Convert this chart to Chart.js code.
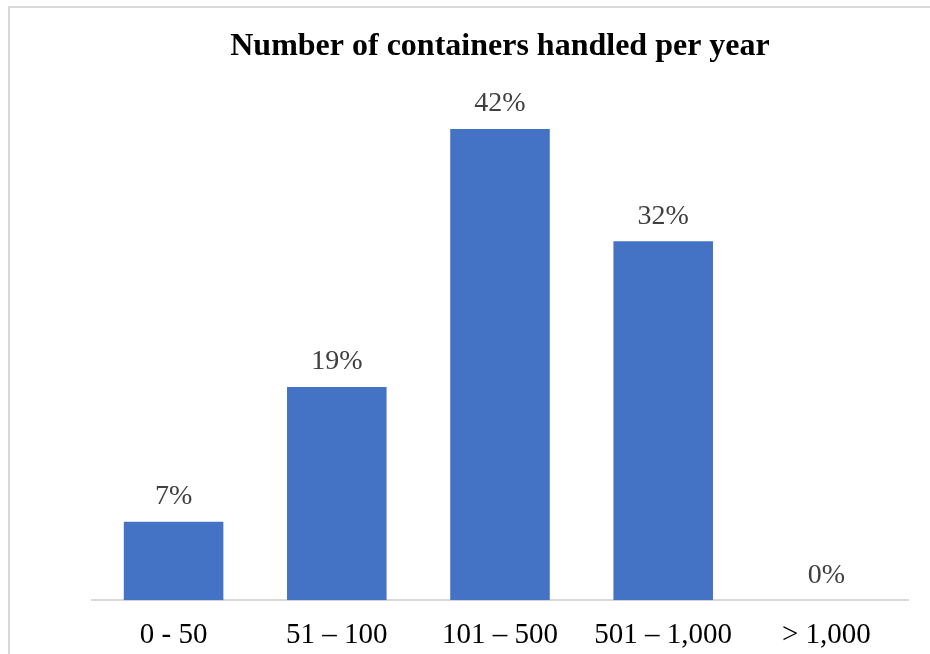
<!DOCTYPE html>
<html>
<head>
<meta charset="utf-8">
<script src="https://cdn.jsdelivr.net/npm/chart.js@4/dist/chart.umd.min.js"></script>
<style>
  html, body { margin: 0; padding: 0; background: #fff; }
  .frame {
    position: absolute;
    left: 8px;
    top: 6px;
    width: 940px;
    height: 660px;
    border-top: 2px solid #d9d9d9;
    border-left: 2px solid #d9d9d9;
  }
  #wrap { position: absolute; left: 0; top: 0; width: 930px; height: 654px; }
</style>
</head>
<body>
<div class="frame"></div>
<div id="wrap"><canvas id="containersChart"></canvas></div>
<script>
const categories = ["0 - 50", "51 \u2013 100", "101 \u2013 500", "501 \u2013 1,000", "> 1,000"];
const shares = [7, 19, 42, 32, 0];
const chartTitle = "Number of containers handled per year";

const serif = "'Liberation Serif', 'Times New Roman', serif";

// draws "NN%" above each bar
const valueLabels = {
  id: "valueLabels",
  afterDatasetsDraw(chart) {
    const ctx = chart.ctx;
    const meta = chart.getDatasetMeta(0);
    ctx.save();
    ctx.font = "28px " + serif;
    ctx.fillStyle = "#404040";
    ctx.textAlign = "center";
    ctx.textBaseline = "middle";
    meta.data.forEach((bar, i) => {
      ctx.fillText(shares[i] + "%", bar.x, bar.y - 25);
    });
    ctx.restore();
  },
};

new Chart(document.getElementById("containersChart"), {
  type: "bar",
  data: {
    labels: categories,
    datasets: [
      {
        data: shares,
        backgroundColor: "#4472c4",
        barPercentage: 0.61,
        categoryPercentage: 1,
      },
    ],
  },
  options: {
    responsive: true,
    maintainAspectRatio: false,
    animation: false,
    layout: { padding: { top: 18, left: 92, right: 22, bottom: -17 } },
    plugins: {
      legend: { display: false },
      tooltip: { enabled: false },
      title: {
        display: true,
        text: chartTitle,
        color: "#000",
        font: { family: serif, size: 32, weight: "bold" },
        padding: { top: 10, bottom: 29 },
      },
    },
    scales: {
      x: {
        grid: { display: false, drawTicks: false },
        border: { display: true, color: "#d9d9d9", width: 2 },
        ticks: {
          color: "#000",
          padding: 18,
          font: { family: serif, size: 29 },
          maxRotation: 0,
        },
      },
      y: {
        display: false,
        min: 0,
        max: 45,
      },
    },
  },
  plugins: [valueLabels],
});
</script>
</body>
</html>
